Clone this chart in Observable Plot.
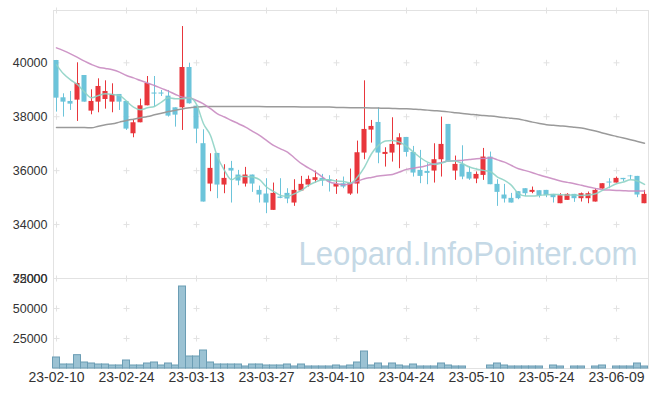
<!DOCTYPE html>
<html><head><meta charset="utf-8">
<script src="https://cdn.jsdelivr.net/npm/d3@7"></script>
<script src="https://cdn.jsdelivr.net/npm/@observablehq/plot@0.6"></script>
<style>
body{margin:0;background:#fff;}
#chart{position:relative;width:657px;height:396px;background:#fff;}
#chart svg{position:absolute;left:0;background:transparent;overflow:visible;}
</style></head><body><div id="chart"></div>
<script>
const dates = ["23-02-10","23-02-13","23-02-14","23-02-15","23-02-16","23-02-17","23-02-20","23-02-21","23-02-22","23-02-23","23-02-24","23-02-27","23-02-28","23-03-02","23-03-03","23-03-06","23-03-07","23-03-08","23-03-09","23-03-10","23-03-13","23-03-14","23-03-15","23-03-16","23-03-17","23-03-20","23-03-21","23-03-22","23-03-23","23-03-24","23-03-27","23-03-28","23-03-29","23-03-30","23-03-31","23-04-03","23-04-04","23-04-05","23-04-06","23-04-07","23-04-10","23-04-11","23-04-12","23-04-13","23-04-14","23-04-17","23-04-18","23-04-19","23-04-20","23-04-21","23-04-24","23-04-25","23-04-26","23-04-27","23-04-28","23-05-02","23-05-03","23-05-04","23-05-08","23-05-09","23-05-10","23-05-11","23-05-12","23-05-15","23-05-16","23-05-17","23-05-18","23-05-19","23-05-22","23-05-23","23-05-24","23-05-25","23-05-26","23-05-30","23-05-31","23-06-01","23-06-02","23-06-05","23-06-07","23-06-08","23-06-09","23-06-12","23-06-13","23-06-14","23-06-15"];

const open  = [40085,38702,38566,38615,39529,38208,38541,38640,38541,38826,38566,37368,37776,38405,38880,38880,38764,38331,38331,39826,38393,37000,35503,36639,35466,36084,35837,35503,35837,35268,35133,34527,35021,35157,34799,35244,35466,35639,35713,35664,35392,35515,35133,35503,36652,37504,37788,36602,36652,36948,37232,36676,36010,35973,35985,36405,37714,35985,36232,35936,35689,35824,36504,35491,35096,34972,35219,35330,35195,35256,35268,35120,34774,34898,35120,34960,34960,34836,35318,35578,35540,35713,35800,35787,34774];
const high  = [40085,38850,38937,40000,39529,38998,39406,39332,39221,38826,38566,37862,38652,39492,39492,38974,38974,38331,41345,39986,38393,37516,36627,36639,36220,36343,36010,36121,35837,35429,35701,35540,35701,35330,35664,35787,35800,35985,35861,35812,35664,35763,36059,37096,39332,37862,38331,36849,37961,37368,37232,36899,36751,36257,36997,37986,37714,36541,36923,36133,35948,36824,36689,35664,35491,35157,35219,35330,35392,35256,35268,35120,35145,35145,35120,35170,35207,35330,35516,35701,35763,35713,35824,35787,35268];
const low   = [38171,37986,38233,37825,38541,38072,38146,38282,38146,38233,37492,37220,37776,38405,38356,38750,37986,37615,37492,38467,37000,34836,35219,34960,35145,34799,35441,35392,35194,34799,34404,34527,34960,34774,34676,35244,35392,35540,35417,35207,35120,35330,35084,35133,36405,37022,36257,36133,36318,36072,36504,35763,35516,35478,35540,35763,36318,35639,35664,35639,35516,35639,35479,34676,34799,34799,34923,35046,35145,34985,34997,34799,34774,34898,34824,34836,34774,34836,35318,35330,35540,35590,35664,34997,34774];
const close = [38689,38541,38467,39233,38541,38566,39122,38937,38826,38541,37541,37776,38405,39233,38840,38840,38023,38060,39826,38480,37541,34836,36084,35466,35713,35985,35614,35837,35503,35096,34799,35157,34972,34947,35268,35491,35676,35738,35614,35590,35491,35392,35528,36664,37529,37640,36652,36676,36973,37220,36676,35911,35787,35898,36405,36973,36318,36232,35763,35689,35861,36504,35479,35195,34947,34799,34960,35145,35268,35071,35083,34997,35071,35120,34960,35145,35145,35268,35516,35540,35713,35664,35775,35096,35120];
const volume = [9167,3333,3333,11111,5000,4167,3333,3333,2500,2500,6667,2500,2500,4167,5000,2500,4167,2500,68333,10000,10000,15000,5000,3333,3333,3333,3333,1667,3333,3333,2500,2500,2500,3333,1667,3333,1667,1667,1667,1667,2500,1667,2500,5000,14167,2500,4167,1667,4167,2500,1667,3333,1667,1667,1667,4167,2500,1667,1667,0,0,0,2500,4167,2500,1667,1667,1667,1667,1667,0,2500,1667,0,1667,1667,0,1667,2500,0,1667,1667,1667,4167,1667];
const ma5  = [39924,39591,39369,39196,38912,38702,38788,38850,38825,38788,38578,38356,38257,38331,38381,38541,38702,38665,38665,38702,38460,37739,37306,36504,36010,35664,35787,35787,35763,35664,35392,35231,35083,35046,35145,35268,35454,35578,35664,35664,35614,35602,35540,35763,36133,36627,36936,37096,37121,37059,36899,36689,36479,36318,36232,36281,36355,36355,36257,36133,36059,36010,35960,35763,35639,35454,35145,35059,35059,35083,35108,35120,35108,35096,35096,35083,35096,35145,35268,35392,35516,35578,35664,35614,35491];
const ma20 = [40554,40450,40332,40200,40060,39937,39838,39790,39739,39653,39529,39440,39344,39250,39159,39050,38949,38825,38727,38702,38603,38480,38300,38109,37990,37862,37740,37615,37460,37306,37120,36936,36810,36689,36470,36257,36100,35948,35760,35578,35520,35479,35516,35610,35701,35750,35800,35830,35861,35950,36047,36090,36133,36195,36257,36305,36355,36370,36380,36410,36442,36455,36475,36400,36318,36190,36072,36000,35923,35840,35763,35690,35614,35565,35516,35455,35392,35340,35293,35280,35268,35255,35244,35244,35244];
const ma60 = [37600,37600,37600,37600,37600,37590,37650,37700,37740,37800,37860,37910,37960,38010,38070,38130,38190,38240,38290,38330,38365,38375,38380,38380,38380,38380,38380,38380,38378,38376,38374,38372,38370,38368,38366,38365,38364,38363,38362,38360,38345,38340,38335,38333,38330,38325,38320,38315,38305,38300,38295,38280,38265,38245,38225,38205,38180,38150,38120,38090,38070,38045,38025,38000,37970,37945,37915,37860,37800,37750,37705,37680,37660,37640,37610,37580,37530,37470,37400,37330,37270,37210,37150,37085,37020];

const tickIndex = [0,10,20,30,40,50,60,70,80];
const priceTicks = [32000,34000,36000,38000,40000];
const volumeTicks = [25000,50000,75000];
const watermark = "Leopard.InfoPointer.com";

const data = dates.map((d,i)=>({i, date:d, open:open[i], high:high[i], low:low[i], close:close[i], volume:volume[i], ma5:ma5[i], ma20:ma20[i], ma60:ma60[i]}));
const up = data.filter(d=>d.close>=d.open);
const down = data.filter(d=>d.close<d.open);

const RED = "#e8363c", BLUE = "#6cc4da";
const xDomain = [-0.4286, 84.571];
const priceDomain = [32000, 41940];
const font = "'Liberation Sans', Arial, sans-serif";
const half = 0.36;

const priceCross = [];
for (const t of tickIndex) for (const y of [...priceTicks.slice(1), priceDomain[1]]) priceCross.push({x:t, y});
const volCross = [];
for (const t of tickIndex) for (const y of volumeTicks) volCross.push({x:t, y});

const price = Plot.plot({
  width: 657, height: 285, marginTop: 10, marginBottom: 7, marginLeft: 53, marginRight: 9,
  style: {fontFamily: font, background: "transparent", overflow: "visible"},
  x: {domain: xDomain, axis: null},
  y: {domain: priceDomain, axis: null},
  marks: [
    Plot.frame({stroke: "#e2e2e2"}),
    Plot.dot(priceCross, {x:"x", y:"y", symbol:"plus", r:2.1, stroke:"#e2e2e2", strokeWidth:1}),
    Plot.text([watermark], {frameAnchor:"bottom-left", dx:245, dy:-14, textAnchor:"start", lineAnchor:"bottom", fontSize:33, fill:"#c5d9e6", fontFamily:font}),
    Plot.ruleX(up, {x:"i", y1:"low", y2:"high", stroke:RED, strokeWidth:1}),
    Plot.ruleX(down, {x:"i", y1:"low", y2:"high", stroke:BLUE, strokeWidth:1}),
    Plot.rect(up, {x1:d=>d.i-half, x2:d=>d.i+half, y1:"open", y2:"close", fill:RED}),
    Plot.rect(down, {x1:d=>d.i-half, x2:d=>d.i+half, y1:"open", y2:"close", fill:BLUE}),
    Plot.line(data, {x:"i", y:"ma60", stroke:"#9a9a9a", strokeWidth:1.5, curve:"monotone-x"}),
    Plot.line(data, {x:"i", y:"ma20", stroke:"#c98bc1", strokeWidth:1.5, curve:"monotone-x", strokeOpacity:0.9}),
    Plot.line(data, {x:"i", y:"ma5", stroke:"#8ed3c5", strokeWidth:1.5, curve:"monotone-x", strokeOpacity:0.9}),
    Plot.axisY({ticks: priceTicks, tickSize:0, tickPadding:6, tickFormat:d=>String(d), fontSize:12.5, fill:"#333", label:null})
  ]
});

const vol = Plot.plot({
  width: 657, height: 125, marginTop: 7, marginBottom: 28, marginLeft: 53, marginRight: 9,
  style: {fontFamily: font, background: "transparent", overflow: "visible"},
  x: {domain: xDomain, axis: null},
  y: {domain: [0, 75000], axis: null},
  marks: [
    Plot.frame({stroke: "#e2e2e2"}),
    Plot.dot(volCross, {x:"x", y:"y", symbol:"plus", r:2.1, stroke:"#e2e2e2", strokeWidth:1}),
    Plot.rectY(data.filter(d=>d.volume>0), {x1:d=>d.i-0.5, x2:d=>d.i+0.5, y:"volume", fill:"#9bc2d3", stroke:"#6b9db4", strokeWidth:1}),
    Plot.axisY({ticks: volumeTicks, tickSize:0, tickPadding:6, tickFormat:d=>String(d), fontSize:12.5, fill:"#333", label:null}),
    Plot.axisX({ticks: tickIndex, tickSize:0, tickPadding:4, tickFormat:i=>dates[i], fontSize:14, fill:"#333", label:null})
  ]
});

const chart = document.getElementById("chart");
price.style.top = "0px";
vol.style.top = "271px";
chart.appendChild(vol);
chart.appendChild(price);
const wm = [...price.querySelectorAll("text")].find(t => t.textContent === watermark);
if (wm) { wm.setAttribute("textLength", "339"); wm.setAttribute("lengthAdjust", "spacingAndGlyphs"); }
</script></body></html>
